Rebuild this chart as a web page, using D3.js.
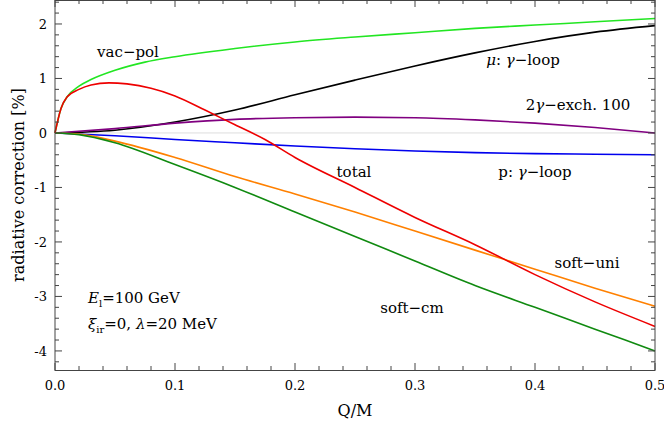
<!DOCTYPE html>
<html><head><meta charset="utf-8">
<script src="https://cdn.jsdelivr.net/npm/d3@7"></script>
<style>body{margin:0;background:#fff}text{font-family:"DejaVu Serif",serif}</style>
</head><body><svg id="c" width="664" height="425"></svg>
<script>
// values, [Q/M, %]
var vacPol = [[0,0],[.005,.45],[.01,.66],[.02,.86],[.03,.98],[.05,1.15],[.075,1.3],[.1,1.4],[.15,1.55],[.2,1.67],[.25,1.76],[.3,1.84],[.35,1.92],[.4,1.98],[.45,2.04],[.5,2.1]];
var total = [[0,0],[.005,.45],[.01,.66],[.02,.8],[.03,.88],[.045,.92],[.06,.9],[.08,.82],[.1,.68],[.125,.42],[.15,.15],[.175,-.12],[.2,-.45],[.25,-1.0],[.3,-1.55],[.35,-2.05],[.4,-2.6],[.45,-3.1],[.5,-3.55]];
var muLoop = [[0,0],[.05,.05],[.1,.2],[.15,.42],[.2,.7],[.25,.97],[.3,1.23],[.35,1.47],[.4,1.68],[.45,1.85],[.5,1.97]];
var twoGamma = [[0,0],[.05,.08],[.1,.18],[.15,.25],[.2,.28],[.25,.29],[.3,.28],[.35,.24],[.4,.18],[.45,.1],[.5,0]];
var pLoop = [[0,0],[.05,-.05],[.1,-.12],[.15,-.18],[.2,-.24],[.25,-.29],[.3,-.33],[.35,-.36],[.4,-.38],[.45,-.39],[.5,-.4]];
var softUni = [[0,0],[.02,-.02],[.05,-.15],[.1,-.45],[.15,-.8],[.2,-1.12],[.25,-1.45],[.3,-1.8],[.35,-2.15],[.4,-2.5],[.45,-2.85],[.5,-3.18]];
var softCm = [[0,0],[.02,-.03],[.05,-.18],[.1,-.58],[.15,-1.0],[.2,-1.45],[.25,-1.9],[.3,-2.35],[.35,-2.8],[.4,-3.2],[.45,-3.6],[.5,-4.0]];
var xTicks = [0,0.1,0.2,0.3,0.4,0.5];
var yTicks = [-4,-3,-2,-1,0,1,2];

var svg = d3.select("#c");
var L=55, R=655, T=0, B=370;
var x = d3.scaleLinear().domain([0,0.5]).range([L,R]);
var y = d3.scaleLinear().domain([-4.35,2.44]).range([B,T]);

svg.append("line").attr("x1",L).attr("x2",R).attr("y1",y(0)).attr("y2",y(0)).attr("stroke","#ddd");

var line = d3.line().x(d=>x(d[0])).y(d=>y(d[1])).curve(d3.curveMonotoneX);
[[vacPol,"#22e622"],[muLoop,"#000"],[twoGamma,"#800080"],[pLoop,"#0000ee"],[softUni,"#ff8000"],[softCm,"#108a10"],[total,"#ee0000"]].forEach(function(s){
  svg.append("path").datum(s[0]).attr("fill","none").attr("stroke",s[1]).attr("stroke-width",1.6).attr("d",line);
});

// frame with ticks
svg.append("rect").attr("x",L).attr("y",T+0.5).attr("width",R-L).attr("height",B-T).attr("fill","none").attr("stroke","#444");
var g = svg.append("g").attr("stroke","#444");
d3.range(0,0.5001,0.02).forEach(function(v){
  var major = xTicks.some(t=>Math.abs(t-v)<1e-6), len = major?7:4;
  g.append("line").attr("x1",x(v)).attr("x2",x(v)).attr("y1",B).attr("y2",B-len);
  g.append("line").attr("x1",x(v)).attr("x2",x(v)).attr("y1",T).attr("y2",T+len);
});
d3.range(-4.2,2.4001,0.2).forEach(function(v){
  var major = yTicks.some(t=>Math.abs(t-v)<1e-6), len = major?7:4;
  g.append("line").attr("y1",y(v)).attr("y2",y(v)).attr("x1",L).attr("x2",L+len);
  g.append("line").attr("y1",y(v)).attr("y2",y(v)).attr("x1",R).attr("x2",R-len);
});
xTicks.forEach(function(v){
  svg.append("text").attr("x",x(v)).attr("y",B+20).attr("text-anchor","middle").attr("font-size",13).text(v.toFixed(1));
});
yTicks.forEach(function(v){
  svg.append("text").attr("x",L-8).attr("y",y(v)+5).attr("text-anchor","end").attr("font-size",13).text(v);
});
svg.append("text").attr("x",355).attr("y",416).attr("text-anchor","middle").attr("font-size",16).text("Q/M");
svg.append("text").attr("transform","translate(24,185) rotate(-90)").attr("text-anchor","middle").attr("font-size",16).text("radiative correction [%]");

function lab(tx,ty,str){ svg.append("text").attr("x",tx).attr("y",ty).attr("text-anchor","middle").attr("font-size",15).html(str); }
lab(128,57,"vac\u2212pol");
lab(523,65,"<tspan font-style='italic'>μ</tspan>: <tspan font-style='italic'>γ</tspan>\u2212loop");
lab(578,110,"2<tspan font-style='italic'>γ</tspan>\u2212exch. 100");
lab(354,177,"total");
lab(535,177,"p: <tspan font-style='italic'>γ</tspan>\u2212loop");
lab(587,268,"soft\u2212uni");
lab(412,313,"soft\u2212cm");
svg.append("text").attr("x",88).attr("y",303).attr("font-size",15).html("<tspan font-style='italic'>E</tspan><tspan font-size='10' dy='4'>l</tspan><tspan dy='-4'>=100 GeV</tspan>");
svg.append("text").attr("x",88).attr("y",329).attr("font-size",15).html("<tspan font-style='italic'>ξ</tspan><tspan font-size='10' dy='4'>ir</tspan><tspan dy='-4'>=0, </tspan><tspan font-style='italic'>λ</tspan>=20 MeV");
</script></body></html>
